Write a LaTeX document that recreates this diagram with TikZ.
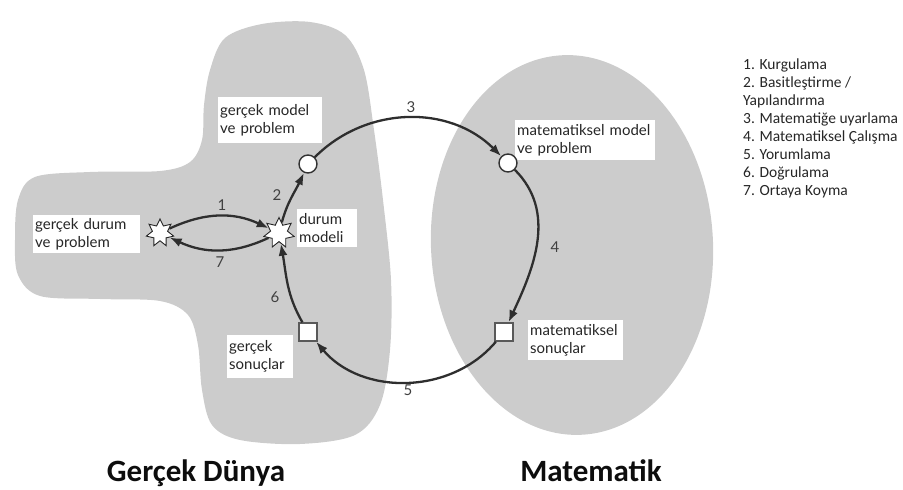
\documentclass[tikz,border=0pt]{standalone}
\usepackage{fontspec}
\setmainfont{Lato}
\newfontfamily\legendfont{Carlito}
\usetikzlibrary{shapes.geometric,arrows.meta}

\begin{document}
\begin{tikzpicture}[x=1pt,y=1pt,
  region/.style={fill=gray!40, draw=none},
  flow/.style={draw=black!82, line width=2.3pt, -{Latex[length=12pt,width=9pt]}},
  starnode/.style={star, star points=7, star point ratio=1.8, draw=black!85,
    fill=white, line width=0.9pt, minimum size=#1, inner sep=0pt},
  ringnode/.style={circle, draw=black!80, fill=white, line width=1.4pt,
    minimum size=18pt, inner sep=0pt},
  boxnode/.style={rectangle, draw=black!65, fill=white, line width=1.4pt,
    minimum size=18pt, inner sep=0pt},
  tag/.style={fill=white, inner sep=2pt, align=left, anchor=north west,
    text width=#1, font=\fontsize{15}{18}\selectfont, text=black!85},
  num/.style={font=\fontsize{15}{18}\selectfont, text=black!75},
  legend/.style={anchor=base west, inner sep=0pt, text=black!85,
    font=\legendfont\fontsize{15.5}{18}\selectfont},
  title/.style={anchor=base, inner sep=0pt, text=black!95,
    font=\legendfont\bfseries\fontsize{31}{36}\selectfont}
]
\useasboundingbox (0,0) rectangle (903,490);

% real-world region
\fill[region] plot[smooth cycle, tension=0.55] coordinates {
  (210,420) (225,452) (262,466) (310,468) (345,455) (364,420) (374,360)
  (383,290) (391,210) (390,140) (380,85) (355,55) (300,46) (240,50)
  (212,65) (202,100) (198,145) (188,175) (160,189) (100,191) (40,194)
  (18,215) (15,250) (18,290) (35,313) (90,318) (160,319) (190,328)
  (202,350) (204,385)};

% mathematics region
\fill[region, rotate around={3:(572,245)}] (572,245) ellipse [x radius=141, y radius=190];

% labels in white boxes
\node[tag=100pt, minimum height=46pt] (tgm) at (218,393) {gerçek model\\ve problem};
\node[tag=103pt, minimum height=38pt] (tgd) at (33,275) {gerçek durum\\ve problem};
\node[tag=56pt, minimum height=38pt] (tdm) at (297,281) {durum\\modeli};
\node[tag=136pt, minimum height=40pt] (tmm) at (515,370) {matematiksel model\\ve problem};
\node[tag=91pt, minimum height=40pt] (tms) at (528,170) {matematiksel\\sonuçlar};
\node[tag=62pt, minimum height=43pt] (tgs) at (227,155) {gerçek\\sonuçlar};

% stations of the cycle
\node[starnode=28pt] (s1) at (160,257) {};
\node[starnode=31pt] (s2) at (279,257) {};
\node[ringnode] (c1) at (308,326) {};
\node[ringnode] (c2) at (508,327) {};
\node[boxnode] (q2) at (504,158) {};
\node[boxnode] (q1) at (308,158) {};

% transitions
\draw[flow] (s1) to[out=25,in=155] (s2);
\draw[flow] (s2) to[out=-155,in=-25] (s1);
\draw[flow] (s2) to[out=75,in=-115] (c1);
\draw[flow] (c1) to[out=45,in=135] (c2);
\draw[flow] (c2) to[out=-45,in=65] (q2);
\draw[flow] (q2) to[out=-130,in=-50] (q1);
\draw[flow] (q1) to[out=120,in=-80] (s2);

% step numbers
\node[num] (n1) at (222,285) {1};
\node[num] (n2) at (277,295) {2};
\node[num] (n3) at (411,383) {3};
\node[num] (n4) at (555,243) {4};
\node[num] (n5) at (408,100) {5};
\node[num] (n6) at (275,193) {6};
\node[num] (n7) at (220,228) {7};

% legend
\node[legend] (l1) at (743,420) {1. Kurgulama};
\node[legend] (l2) at (743,402) {2. Basitleştirme /};
\node[legend] (l3) at (743,384) {Yapılandırma};
\node[legend] (l4) at (743,366) {3. Matematiğe uyarlama};
\node[legend] (l5) at (743,348) {4. Matematiksel Çalışma};
\node[legend] (l6) at (743,330) {5. Yorumlama};
\node[legend] (l7) at (743,312) {6. Doğrulama};
\node[legend] (l8) at (743,294) {7. Ortaya Koyma};

% region titles
\node[title] (tw) at (196,8) {Gerçek Dünya};
\node[title] (tm) at (591,8) {Matematik};
\end{tikzpicture}
\end{document}
